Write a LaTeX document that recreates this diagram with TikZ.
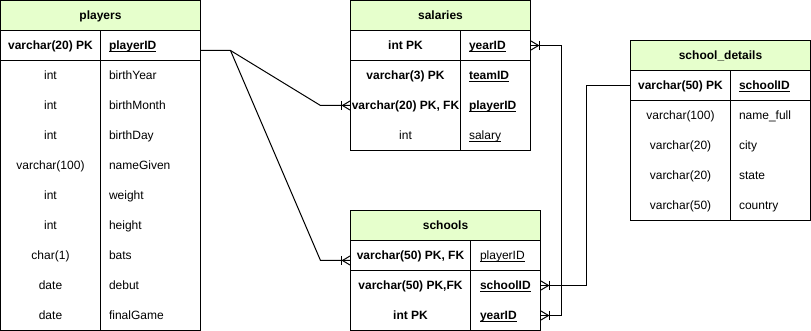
\documentclass[tikz,border=0pt]{standalone}
\usepackage{fontspec}
\setmainfont{Liberation Sans}
\usetikzlibrary{calc}
\definecolor{hdrgreen}{HTML}{E6FFCC}

% key field underline: a thin rule just below the baseline
\newcommand{\keyul}[1]{\setbox0\hbox{#1}\rlap{\rule[-1.4pt]{\wd0}{0.6pt}}\box0}

\tikzset{
  txt/.style={inner sep=0pt, text height=6.5pt, text depth=0pt,
              font=\fontsize{9pt}{10.8pt}\selectfont},
  typ/.style={txt, anchor=center},
  fld/.style={txt, anchor=west},
  hdr/.style={txt, anchor=center, font=\fontsize{9pt}{10.8pt}\selectfont\bfseries},
  bld/.style={font=\fontsize{9pt}{10.8pt}\selectfont\bfseries},
  rowbox/.style={inner sep=0pt, minimum width=#1, minimum height=22.5pt},
  hdrbox/.style={draw, fill=hdrgreen},
  link/.style={line width=0.75pt},
  pics/crowfoot/.style={code={
    \draw[line width=0.75pt] (0,-4.5) -- (7.5,0) -- (0,4.5);
    \draw[line width=0.75pt] (8.5,-4.5) -- (8.5,4.5);
  }},
}

\begin{document}
\begin{tikzpicture}[x=0.75pt, y=-0.75pt, line width=0.75pt]
\useasboundingbox (-0.5,-0.5) rectangle (810.5,330.5);

% ---------- players ----------
\draw[hdrbox] (0,0) rectangle (200,30);
\node[hdr] (players) at (100,15) {players};
\draw (0,30) rectangle (200,330);
\draw (0,60) -- (200,60);
\draw (100,30) -- (100,330);
\node[rowbox=150pt] (pl-key) at (100,45) {};
\node[typ, bld] (pl-keyt) at (50,45) {varchar(20) PK};
\node[fld, bld] (pl-keyf) at (108,45) {\keyul{playerID}};
\foreach \t/\f [count=\i] in {int/birthYear, int/birthMonth, int/birthDay,
    varchar(100)/nameGiven, int/weight, int/height, char(1)/bats,
    date/debut, date/finalGame} {
  \node[typ] (pl-t\i) at (50,45+30*\i) {\t};
  \node[fld] (pl-f\i) at (108,45+30*\i) {\f};
}

% ---------- salaries ----------
\draw[hdrbox] (350,0) rectangle (530,30);
\node[hdr] (salaries) at (440,15) {salaries};
\draw (350,30) rectangle (530,150);
\draw (350,60) -- (530,60);
\draw (460,30) -- (460,150);
\node[rowbox=135pt] (sa-key) at (440,45) {};
\node[rowbox=135pt] (sa-pid) at (440,105) {};
\node[typ, bld] (sa-t1) at (405,45) {int PK};
\node[fld, bld] (sa-f1) at (468,45) {\keyul{yearID}};
\node[typ, bld] (sa-t2) at (405,75) {varchar(3) PK};
\node[fld, bld] (sa-f2) at (468,75) {\keyul{teamID}};
\node[typ, bld] (sa-t3) at (405,105) {varchar(20) PK, FK};
\node[fld, bld] (sa-f3) at (468,105) {\keyul{playerID}};
\node[typ] (sa-t4) at (405,135) {int};
\node[fld] (sa-f4) at (468,135) {\keyul{salary}};

% ---------- schools ----------
\draw[hdrbox] (350,210) rectangle (540,240);
\node[hdr] (schools) at (445,225) {schools};
\draw (350,240) rectangle (540,330);
\draw (350,270) -- (540,270);
\draw (470,240) -- (470,330);
\node[rowbox=142.5pt] (sc-pid) at (445,255) {};
\node[rowbox=142.5pt] (sc-sid) at (445,285) {};
\node[rowbox=142.5pt] (sc-yr) at (445,315) {};
\node[typ, bld] (sc-t1) at (410,255) {varchar(50) PK, FK};
\node[fld] (sc-f1) at (479,255) {\keyul{playerID}};
\node[typ, bld] (sc-t2) at (410,285) {varchar(50) PK,FK};
\node[fld, bld] (sc-f2) at (479,285) {\keyul{schoolID}};
\node[typ, bld] (sc-t3) at (410,315) {int PK};
\node[fld, bld] (sc-f3) at (479,315) {\keyul{yearID}};

% ---------- school_details ----------
\draw[hdrbox] (630,40) rectangle (810,70);
\node[hdr] (school-details) at (720,55) {school\_details};
\draw (630,70) rectangle (810,220);
\draw (630,100) -- (810,100);
\draw (730,70) -- (730,220);
\node[rowbox=135pt] (sd-key) at (720,85) {};
\node[typ, bld] (sd-keyt) at (680,85) {varchar(50) PK};
\node[fld, bld] (sd-keyf) at (738,85) {\keyul{schoolID}};
\node[typ] (sd-t1) at (680,115) {varchar(100)};
\node[fld] (sd-f1) at (738,115) {name\_full};
\node[typ] (sd-t2) at (680,145) {varchar(20)};
\node[fld] (sd-f2) at (738,145) {city};
\node[typ] (sd-t3) at (680,175) {varchar(20)};
\node[fld] (sd-f3) at (738,175) {state};
\node[typ] (sd-t4) at (680,205) {varchar(50)};
\node[fld] (sd-f4) at (738,205) {country};

% ---------- relationships ----------
\coordinate (fork) at (230,50);
\draw[link] ($(pl-key.east)+(0,5)$) -- (fork) -- (320,105) -- (sa-pid.west);
\draw[link] (fork) -- (320,260) -- ($(sc-pid.west)+(0,5)$);
\draw[link] (sa-key.east) -- ++(30,0) |- (sc-yr.east);
\draw[link] (sc-sid.east) -- ++(45,0) |- (sd-key.west);

\pic[xscale=-1] at (sa-pid.west) {crowfoot};
\pic[xscale=-1] at ($(sc-pid.west)+(0,5)$) {crowfoot};
\pic at (sa-key.east) {crowfoot};
\pic at (sc-yr.east) {crowfoot};
\pic at (sc-sid.east) {crowfoot};
\end{tikzpicture}
\end{document}
